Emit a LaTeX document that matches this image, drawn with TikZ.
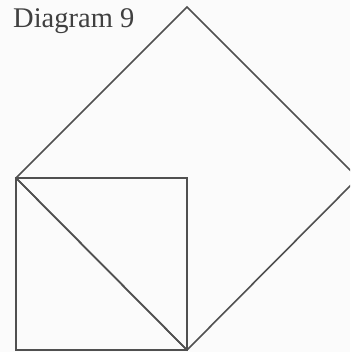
\documentclass[tikz,border=0pt]{standalone}
\usepackage{fontspec}
\setmainfont{Liberation Serif}
\definecolor{ink}{HTML}{505050}
\begin{document}
\begin{tikzpicture}[x=1pt,y=-1pt,
  edge/.style={draw=ink,line width=1.6pt,line join=miter}]
\fill[white!97!gray] (0,0) rectangle (350,352);
\useasboundingbox (0,0) rectangle (350,352);
\clip (0,0) rectangle (350,352);
\coordinate (L) at (16,178);
\coordinate (T) at (187,7);
\coordinate (R) at (358,178);
\coordinate (B) at (187,350);
\coordinate (Q) at (187,178);
\coordinate (P) at (16,350);
\draw[edge] (L) -- (T) -- (R) -- (B) -- cycle;
\draw[edge] (L) -- (Q) -- (B) -- (P) -- cycle;
\draw[edge] (L) -- (B);
\node[anchor=base west,inner sep=0pt,text=ink!80!black,font=\fontsize{28.5}{32}\selectfont] (title) at (13,28) {Diagram 9};
\end{tikzpicture}
\end{document}
